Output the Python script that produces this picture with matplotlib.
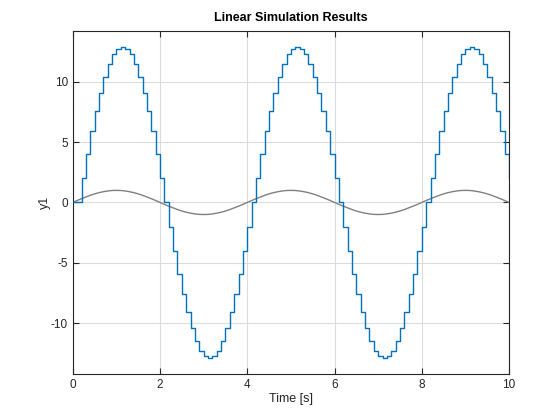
import matplotlib
matplotlib.use("Agg")
import matplotlib.pyplot as plt

# time samples (s), sample time 0.1 s
t = [round(0.1 * i, 1) for i in range(101)]

# discrete output y1 (held between samples)
y1 = [0.0,
      0.0, 2.0, 4.0, 5.9, 7.6, 9.1, 10.4, 11.5, 12.3, 12.7,
      12.9, 12.7, 12.3, 11.5, 10.4, 9.1, 7.6, 5.9, 4.0, 2.0,
      0.0, -2.0, -4.0, -5.9, -7.6, -9.1, -10.4, -11.5, -12.3, -12.7,
      -12.9, -12.7, -12.3, -11.5, -10.4, -9.1, -7.6, -5.9, -4.0, -2.0,
      0.0, 2.0, 4.0, 5.9, 7.6, 9.1, 10.4, 11.5, 12.3, 12.7,
      12.9, 12.7, 12.3, 11.5, 10.4, 9.1, 7.6, 5.9, 4.0, 2.0,
      0.0, -2.0, -4.0, -5.9, -7.6, -9.1, -10.4, -11.5, -12.3, -12.7,
      -12.9, -12.7, -12.3, -11.5, -10.4, -9.1, -7.6, -5.9, -4.0, -2.0,
      0.0, 2.0, 4.0, 5.9, 7.6, 9.1, 10.4, 11.5, 12.3, 12.7,
      12.9, 12.7, 12.3, 11.5, 10.4, 9.1, 7.6, 5.9, 4.0, 2.0]

# input signal u
u = [0.0, 0.16, 0.31, 0.45, 0.59, 0.71, 0.81, 0.89, 0.95, 0.99,
     1.0, 0.99, 0.95, 0.89, 0.81, 0.71, 0.59, 0.45, 0.31, 0.16,
     0.0, -0.16, -0.31, -0.45, -0.59, -0.71, -0.81, -0.89, -0.95, -0.99,
     -1.0, -0.99, -0.95, -0.89, -0.81, -0.71, -0.59, -0.45, -0.31, -0.16,
     0.0, 0.16, 0.31, 0.45, 0.59, 0.71, 0.81, 0.89, 0.95, 0.99,
     1.0, 0.99, 0.95, 0.89, 0.81, 0.71, 0.59, 0.45, 0.31, 0.16,
     0.0, -0.16, -0.31, -0.45, -0.59, -0.71, -0.81, -0.89, -0.95, -0.99,
     -1.0, -0.99, -0.95, -0.89, -0.81, -0.71, -0.59, -0.45, -0.31, -0.16,
     0.0, 0.16, 0.31, 0.45, 0.59, 0.71, 0.81, 0.89, 0.95, 0.99,
     1.0, 0.99, 0.95, 0.89, 0.81, 0.71, 0.59, 0.45, 0.31, 0.16,
     0.0]

xticks = [0, 2, 4, 6, 8, 10]
yticks = [-10, -5, 0, 5, 10]

plt.rcParams['font.family'] = ['Liberation Sans', 'DejaVu Sans']
plt.rcParams['axes.unicode_minus'] = False
fig = plt.figure(figsize=(5.6, 4.2), dpi=100)
ax = fig.add_axes([0.13, 0.11, 0.779, 0.816])

ax.plot(t, u, color='#808080', lw=1.0, zorder=2)
ax.plot(t, y1, color='#0072BD', lw=1.0, drawstyle='steps-post', zorder=3)

ax.set_xlim(0, 10)
ax.set_ylim(-14.2, 14.2)
ax.set_xticks(xticks)
ax.set_yticks(yticks)
ax.grid(True, color='#dcdcdc', lw=0.8)
ax.set_axisbelow(True)
ax.tick_params(direction='in', top=True, right=True, length=4,
               labelsize=8.5, colors='#262626', width=0.8)
for s in ax.spines.values():
    s.set_color('#262626')
    s.set_linewidth(0.8)

ax.set_title('Linear Simulation Results', fontsize=9, fontweight='bold', pad=7)
ax.set_xlabel('Time [s]', fontsize=9, color='#262626', labelpad=2)
ax.set_ylabel('y1', fontsize=9, color='#262626', labelpad=0)

fig.savefig('out.png', dpi=100)
